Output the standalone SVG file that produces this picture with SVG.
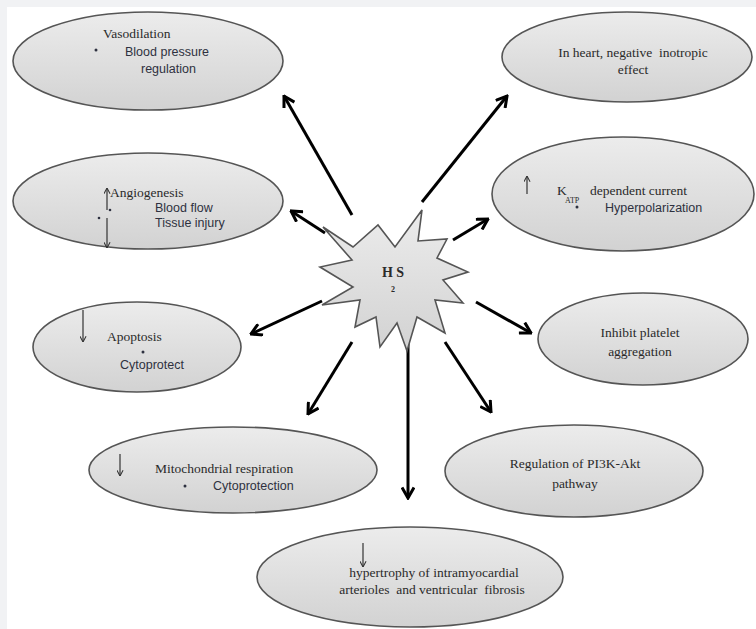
<svg xmlns="http://www.w3.org/2000/svg" width="756" height="629" viewBox="0 0 756 629">
<defs>
<linearGradient id="g" x1="0" y1="0" x2="0" y2="1">
<stop offset="0" stop-color="#ececec"/>
<stop offset="1" stop-color="#d2d2d2"/>
</linearGradient>
<marker id="big" viewBox="0 0 14 14" refX="12.5" refY="7" markerWidth="14" markerHeight="14" markerUnits="userSpaceOnUse" orient="auto">
<path d="M2,1 L12.5,7 L2,13" fill="none" stroke="#000" stroke-width="3"/>
</marker>
<marker id="small" viewBox="0 0 8 8" refX="7.5" refY="4" markerWidth="7" markerHeight="7" markerUnits="userSpaceOnUse" orient="auto">
<path d="M1,0.5 L7.5,4 L1,7.5" fill="none" stroke="#333" stroke-width="1.2"/>
</marker>
</defs>
<style>
.bub{fill:url(#g);stroke:#555;stroke-width:1.6}
.ser{font-family:"Liberation Serif","Times New Roman",serif;font-size:13.5px;fill:#2a2a2a}
.san{font-family:"Liberation Sans",Arial,sans-serif;font-size:12.5px;fill:#2e3140}
.mid{text-anchor:middle}
.conn{stroke:#000;stroke-width:3;fill:none;marker-end:url(#big)}
.tiny{stroke:#333;stroke-width:1.2;fill:none;marker-end:url(#small)}
.dot{fill:#2e3140}
</style>
<rect width="756" height="629" fill="#ffffff"/>
<rect x="0" y="0" width="756" height="7" fill="#f1f2f4"/>
<rect x="0" y="0" width="7" height="629" fill="#f1f2f4"/>

<g id="connectors">
<line class="conn" x1="352" y1="215" x2="284" y2="96"/>
<line class="conn" x1="422" y1="202" x2="507" y2="96"/>
<line class="conn" x1="325" y1="233" x2="291" y2="211"/>
<line class="conn" x1="453" y1="240" x2="488" y2="219"/>
<line class="conn" x1="322" y1="301" x2="251" y2="334"/>
<line class="conn" x1="476" y1="302" x2="531" y2="333"/>
<line class="conn" x1="352" y1="342" x2="308" y2="414"/>
<line class="conn" x1="408" y1="343" x2="408" y2="498"/>
<line class="conn" x1="445" y1="342" x2="491" y2="412"/>
</g>

<g id="hs2">
<polygon fill="url(#g)" stroke="#555" stroke-width="1.6" points="323,227 353,247 378,225 395,247 422,210 418,241 447,239 437,258 468,272 443,280 463,303 435,300 445,333 417,317 407,351 397,323 380,347 376,317 355,327 360,300 322,305 353,287 320,267 352,260"/>
<text class="ser mid" x="393" y="277" style="font-weight:bold;font-size:14px">H S</text>
<text class="ser mid" x="393" y="292" style="font-weight:bold;font-size:8px">2</text>
</g>

<g id="vasodilation">
<ellipse class="bub" cx="148" cy="61" rx="135" ry="49"/>
<text class="ser" x="103" y="38">Vasodilation</text>
<circle class="dot" cx="96" cy="50" r="1.5"/>
<text class="san" x="125" y="56">Blood pressure</text>
<text class="san" x="141" y="73">regulation</text>
</g>

<g id="heart">
<ellipse class="bub" cx="627" cy="57" rx="125" ry="45"/>
<text class="ser mid" x="633" y="57" xml:space="preserve">In heart, negative  inotropic</text>
<text class="ser mid" x="633" y="74">effect</text>
</g>

<g id="angiogenesis">
<ellipse class="bub" cx="148" cy="201" rx="135" ry="48"/>
<line class="tiny" x1="107" y1="210" x2="107" y2="188"/>
<line class="tiny" x1="107" y1="218" x2="107" y2="248"/>
<text class="ser" x="110" y="197">Angiogenesis</text>
<circle class="dot" cx="110" cy="210" r="1.3"/>
<circle class="dot" cx="99" cy="218" r="1.3"/>
<text class="san" x="155" y="212">Blood flow</text>
<text class="san" x="155" y="227">Tissue injury</text>
</g>

<g id="katp">
<ellipse class="bub" cx="623" cy="194" rx="131" ry="57"/>
<line class="tiny" x1="527" y1="194" x2="527" y2="176"/>
<text class="ser" x="557" y="195">K</text>
<text class="ser" x="565" y="203" style="font-size:8px">ATP</text>
<text class="ser" x="590" y="195">dependent current</text>
<circle class="dot" cx="577" cy="207" r="1.5"/>
<text class="san" x="605" y="212">Hyperpolarization</text>
</g>

<g id="apoptosis">
<ellipse class="bub" cx="137" cy="347" rx="104" ry="45"/>
<line class="tiny" x1="83" y1="310" x2="83" y2="342"/>
<text class="ser" x="107" y="341">Apoptosis</text>
<circle class="dot" cx="143" cy="352" r="1.5"/>
<text class="san" x="120" y="369">Cytoprotect</text>
</g>

<g id="platelet">
<ellipse class="bub" cx="643" cy="339" rx="105" ry="46"/>
<text class="ser mid" x="640" y="337">Inhibit platelet</text>
<text class="ser mid" x="640" y="356">aggregation</text>
</g>

<g id="mitochondrial">
<ellipse class="bub" cx="233" cy="470" rx="144" ry="43"/>
<line class="tiny" x1="120" y1="454" x2="120" y2="476"/>
<text class="ser" x="155" y="473">Mitochondrial respiration</text>
<circle class="dot" cx="185" cy="486" r="1.5"/>
<text class="san" x="213" y="490">Cytoprotection</text>
</g>

<g id="pi3k">
<ellipse class="bub" cx="574" cy="471" rx="129" ry="46"/>
<text class="ser mid" x="575" y="468">Regulation of  PI3K-Akt</text>
<text class="ser mid" x="575" y="488">pathway</text>
</g>

<g id="hypertrophy">
<ellipse class="bub" cx="410" cy="577" rx="153" ry="50"/>
<line class="tiny" x1="363" y1="543" x2="363" y2="567"/>
<text class="ser mid" x="434" y="577">hypertrophy of intramyocardial</text>
<text class="ser mid" x="432" y="594" xml:space="preserve">arterioles  and ventricular  fibrosis</text>
</g>
</svg>
